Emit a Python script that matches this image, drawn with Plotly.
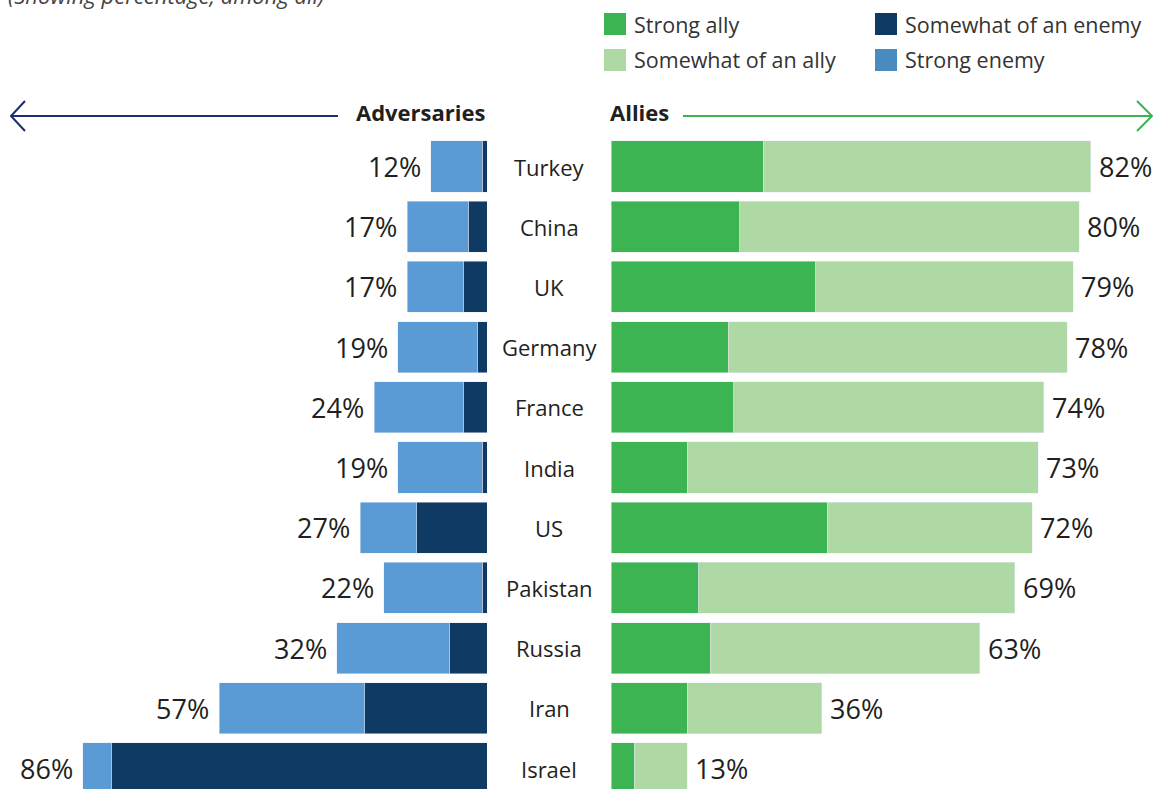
import plotly.graph_objects as go

countries = ["Turkey", "China", "UK", "Germany", "France", "India", "US",
             "Pakistan", "Russia", "Iran", "Israel"]
strong_ally = [26, 22, 35, 20, 21, 13, 37, 15, 17, 13, 4]
somewhat_ally = [56, 58, 44, 58, 53, 60, 35, 54, 46, 23, 9]
allies_total = [82, 80, 79, 78, 74, 73, 72, 69, 63, 36, 13]
somewhat_enemy = [1, 4, 5, 2, 5, 1, 15, 1, 8, 26, 80]
strong_enemy = [11, 13, 12, 17, 19, 18, 12, 21, 24, 31, 6]
adversaries_total = [12, 17, 17, 19, 24, 19, 27, 22, 32, 57, 86]

W, H = 1167, 789
FONT = "Open Sans"
TXT = "#231f20"
C_STRONG_ALLY = "#3cb451"
C_SOME_ALLY = "#afd9a4"
C_SOME_ENEMY = "#0e3a63"
C_STRONG_ENEMY = "#5b9bd5"


def px(x):
    return x / W


def py(y):
    return 1 - y / H


fig = go.Figure()
bar_kw = dict(orientation="h", width=0.85, hoverinfo="x+y+name")
fig.add_trace(go.Bar(y=countries, x=somewhat_enemy, name="Somewhat of an enemy",
                     marker_color=C_SOME_ENEMY, xaxis="x", yaxis="y", **bar_kw))
fig.add_trace(go.Bar(y=countries, x=strong_enemy, name="Strong enemy",
                     marker_color=C_STRONG_ENEMY, xaxis="x", yaxis="y", **bar_kw))
fig.add_trace(go.Bar(y=countries, x=strong_ally, name="Strong ally",
                     marker_color=C_STRONG_ALLY, xaxis="x2", yaxis="y", **bar_kw))
fig.add_trace(go.Bar(y=countries, x=somewhat_ally, name="Somewhat of an ally",
                     marker_color=C_SOME_ALLY, xaxis="x2", yaxis="y", **bar_kw))

annotations = []
for c, t in zip(countries, adversaries_total):
    annotations.append(dict(x=t, y=c, xref="x", yref="y", text=f"{t}%", showarrow=False,
                            xanchor="right", xshift=-8,
                            font=dict(size=27, color=TXT, family=FONT)))
for c, t in zip(countries, allies_total):
    annotations.append(dict(x=t, y=c, xref="x2", yref="y", text=f"{t}%", showarrow=False,
                            xanchor="left", xshift=6,
                            font=dict(size=27, color=TXT, family=FONT)))
for c in countries:
    annotations.append(dict(x=px(549), y=c, xref="paper", yref="y", text=c, showarrow=False,
                            xanchor="center", font=dict(size=22, color=TXT, family=FONT)))

# headers
annotations += [
    dict(x=px(488), y=py(112), xref="paper", yref="paper", text="<b>Adversaries</b>",
         showarrow=False, xanchor="right", yanchor="middle",
         font=dict(size=22, color=TXT, family=FONT)),
    dict(x=px(608), y=py(112), xref="paper", yref="paper", text="<b>Allies</b>",
         showarrow=False, xanchor="left", yanchor="middle",
         font=dict(size=22, color=TXT, family=FONT)),
    dict(x=px(6), y=py(12), xref="paper", yref="paper",
         text="<i>(Showing percentage, among all)</i>", showarrow=False,
         xanchor="left", yanchor="bottom", font=dict(size=22, color="#444", family=FONT)),
]

# legend (manual, 2x2)
legend_items = [
    ("Strong ally", C_STRONG_ALLY, 604, 24),
    ("Somewhat of an ally", C_SOME_ALLY, 604, 60),
    ("Somewhat of an enemy", C_SOME_ENEMY, 875, 24),
    ("Strong enemy", "#4a8bbf", 875, 60),
]
shapes = []
for label, color, x0, yc in legend_items:
    shapes.append(dict(type="rect", xref="paper", yref="paper", x0=px(x0), x1=px(x0 + 22),
                       y0=py(yc - 11), y1=py(yc + 11), fillcolor=color, line_width=0))
    annotations.append(dict(x=px(x0 + 28), y=py(yc), xref="paper", yref="paper", text=label,
                            showarrow=False, xanchor="left", yanchor="middle",
                            font=dict(size=21.5, color="#333", family=FONT)))

# arrows
navy = "#1b2f6e"
green = C_STRONG_ALLY
shapes += [
    dict(type="line", xref="paper", yref="paper", x0=px(11), x1=px(338), y0=py(116), y1=py(116),
         line=dict(color=navy, width=2)),
    dict(type="path", xref="paper", yref="paper",
         path=f"M {px(25)},{py(101)} L {px(11)},{py(116)} L {px(25)},{py(131)}",
         line=dict(color=navy, width=2)),
    dict(type="line", xref="paper", yref="paper", x0=px(683), x1=px(1152), y0=py(116), y1=py(116),
         line=dict(color=green, width=2)),
    dict(type="path", xref="paper", yref="paper",
         path=f"M {px(1137)},{py(101)} L {px(1152)},{py(116)} L {px(1137)},{py(131)}",
         line=dict(color=green, width=2)),
]

top_px = 100
unit = 60.2
fig.update_layout(
    width=W, height=H,
    margin=dict(l=0, r=0, t=0, b=0),
    paper_bgcolor="white", plot_bgcolor="white",
    barmode="stack", showlegend=False,
    font=dict(family=FONT, color=TXT),
    xaxis=dict(domain=[0, px(487)], range=[487 / 4.7, 0], visible=False, fixedrange=True),
    xaxis2=dict(domain=[px(611), 1], range=[0, (W - 611) / 5.85], visible=False, fixedrange=True),
    yaxis=dict(domain=[0, py(top_px)], type="category", visible=False, fixedrange=True,
               range=[10 + (H - 768.5) / unit, -(166.5 - top_px) / unit]),
    annotations=annotations,
    shapes=shapes,
)

fig.write_html("out.html", config={"displayModeBar": False},
               post_script="document.body.style.margin='0';")
